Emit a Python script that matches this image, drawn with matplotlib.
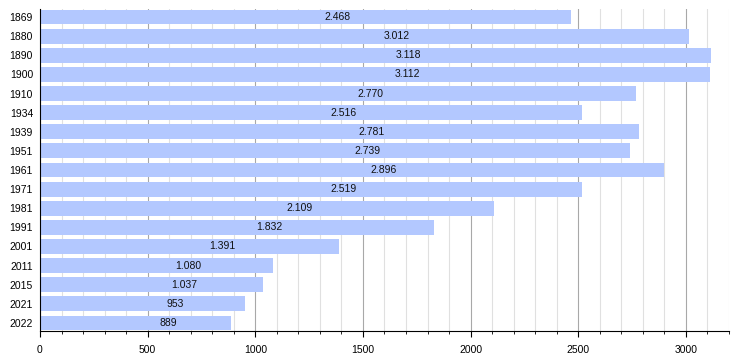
import matplotlib
matplotlib.use("Agg")
import matplotlib.pyplot as plt
from matplotlib.ticker import MultipleLocator

years = ["1869", "1880", "1890", "1900", "1910", "1934", "1939", "1951", "1961",
         "1971", "1981", "1991", "2001", "2011", "2015", "2021", "2022"]
population = [2468, 3012, 3118, 3112, 2770, 2516, 2781, 2739, 2896,
              2519, 2109, 1832, 1391, 1080, 1037, 953, 889]

plt.rcParams["font.family"] = ["Liberation Sans", "DejaVu Sans"]

fig = plt.figure(figsize=(7.5, 3.58), dpi=100)
ax = fig.add_axes([0.0533, 0.0754, 0.9187, 0.8995])

pos = list(range(len(years)))
ax.barh(pos, population, height=0.78, color="#b3c8ff", zorder=2)

for p, v in zip(pos, population):
    label = f"{v:,}".replace(",", ".")
    ax.text(v / 2 + 150, p, label, ha="center", va="center", fontsize=7.5,
            color="#111111", zorder=3)

ax.set_xlim(0, 3200)
ax.set_ylim(len(years) - 1 + 0.42, -0.42)
ax.set_yticks(pos)
ax.set_yticklabels(years, fontsize=7.5)
ax.xaxis.set_major_locator(MultipleLocator(500))
ax.xaxis.set_minor_locator(MultipleLocator(100))
ax.tick_params(axis="x", which="major", length=4, width=0.8, labelsize=7.5, pad=6)
ax.tick_params(axis="x", which="minor", length=2.5, width=0.6)
ax.tick_params(axis="y", length=0, pad=5)

ax.grid(axis="x", which="major", color="#a8a8a8", linewidth=0.8, zorder=0)
ax.grid(axis="x", which="minor", color="#e0e0e0", linewidth=0.8, zorder=0)
ax.set_axisbelow(True)

for side in ("top", "right"):
    ax.spines[side].set_visible(False)
ax.spines["left"].set_color("black")
ax.spines["bottom"].set_color("black")

fig.savefig("out.png", dpi=100)
